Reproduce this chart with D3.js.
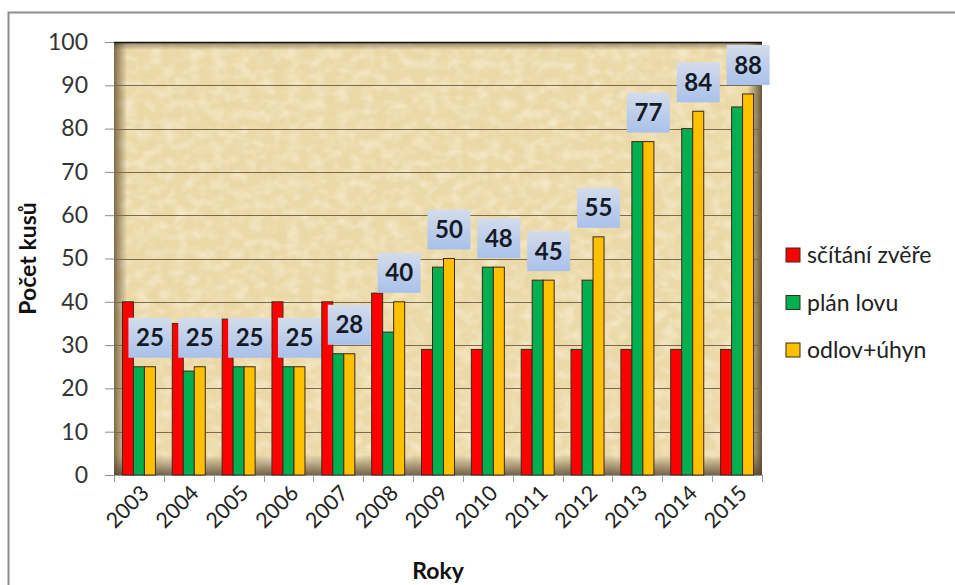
<!DOCTYPE html>
<html>
<head>
<meta charset="utf-8">
<script src="https://cdn.jsdelivr.net/npm/d3@7"></script>
<style>
  html, body { margin: 0; padding: 0; background: #fff; }
  svg { display: block; font-family: Lato, "Open Sans", sans-serif; }
</style>
</head>
<body>
<svg id="chart" width="955" height="585"></svg>
<script>
// Years on the category axis
const years = ["2003","2004","2005","2006","2007","2008","2009","2010","2011","2012","2013","2014","2015"];
// Series
const seriesNames = ["sčítání zvěře", "plán lovu", "odlov+úhyn"];
const scitani = [40, 35, 36, 40, 40, 42, 29, 29, 29, 29, 29, 29, 29];
const planLovu = [25, 24, 25, 25, 28, 33, 48, 48, 45, 45, 77, 80, 85];
const odlov   = [25, 25, 25, 25, 28, 40, 50, 48, 45, 55, 77, 84, 88];
const yTicks = [0, 10, 20, 30, 40, 50, 60, 70, 80, 90, 100];

const seriesValues = [scitani, planLovu, odlov];
const colors = ["#ff0000", "#00b050", "#ffc000"];

const svg = d3.select("#chart");
const plot = { left: 114, right: 762, top: 42, bottom: 475 };

// Outer frame
svg.append("rect")
  .attr("x", 8.5).attr("y", 12.5).attr("width", 960).attr("height", 600)
  .attr("fill", "#fff").attr("stroke", "#8c8c8c").attr("stroke-width", 2);

const x = d3.scaleBand().domain(years).range([plot.left, plot.right]).paddingInner(0).paddingOuter(0);
const x1 = d3.scaleBand().domain(d3.range(3)).range([0, x.bandwidth()]).paddingInner(0).paddingOuter(0.766);
const y = d3.scaleLinear().domain([0, 100]).range([plot.bottom, plot.top]);

const defs = svg.append("defs");

// Papyrus-like texture: fine horizontal and vertical fibres
function fibreFilter(id, freq, seed, rgb, aScale, aOff) {
  const f = defs.append("filter").attr("id", id)
    .attr("x", 0).attr("y", 0).attr("width", "100%").attr("height", "100%");
  f.append("feTurbulence").attr("type", "fractalNoise")
    .attr("baseFrequency", freq).attr("numOctaves", 2).attr("seed", seed).attr("result", "n");
  f.append("feColorMatrix").attr("in", "n").attr("type", "matrix")
    .attr("values", `0 0 0 0 ${rgb[0]}  0 0 0 0 ${rgb[1]}  0 0 0 0 ${rgb[2]}  0 0 0 ${aScale} ${aOff}`);
}
fibreFilter("fibH", "0.02 0.3", 4, [0.8, 0.67, 0.4], 0.9, -0.36);
fibreFilter("fibV", "0.3 0.02", 9, [0.8, 0.67, 0.4], 0.9, -0.36);
fibreFilter("fibL", "0.08 0.1", 2, [1.0, 0.96, 0.84], 1.0, -0.4);

function edgeGrad(id, x1v, y1v, x2v, y2v, color, op) {
  const g = defs.append("linearGradient").attr("id", id)
    .attr("x1", x1v).attr("y1", y1v).attr("x2", x2v).attr("y2", y2v);
  g.append("stop").attr("offset", "0%").attr("stop-color", color).attr("stop-opacity", op);
  g.append("stop").attr("offset", "100%").attr("stop-color", color).attr("stop-opacity", 0);
}
edgeGrad("edgeL", 0, 0, 1, 0, "#5a4526", 0.75);
edgeGrad("edgeR", 1, 0, 0, 0, "#4d3b22", 0.85);
edgeGrad("edgeB", 0, 1, 0, 0, "#55452f", 0.8);
edgeGrad("edgeT", 0, 0, 0, 1, "#3f2f1a", 0.55);

const lbl = defs.append("linearGradient").attr("id", "lblFill")
  .attr("x1", 0).attr("y1", 0).attr("x2", 0).attr("y2", 1);
lbl.append("stop").attr("offset", "0%").attr("stop-color", "#d3dcec");
lbl.append("stop").attr("offset", "100%").attr("stop-color", "#a9c1ea");

const pw = plot.right - plot.left, ph = plot.bottom - plot.top;
const bg = svg.append("g");
bg.append("rect").attr("x", plot.left).attr("y", plot.top).attr("width", pw).attr("height", ph).attr("fill", "#ecd9a8");
["fibH", "fibV", "fibL"].forEach(id => {
  bg.append("rect").attr("x", plot.left).attr("y", plot.top).attr("width", pw).attr("height", ph)
    .attr("filter", `url(#${id})`);
});
bg.append("rect").attr("x", plot.left).attr("y", plot.top).attr("width", 13).attr("height", ph).attr("fill", "url(#edgeL)");
bg.append("rect").attr("x", plot.right - 15).attr("y", plot.top).attr("width", 15).attr("height", ph).attr("fill", "url(#edgeR)");
bg.append("rect").attr("x", plot.left).attr("y", plot.bottom - 20).attr("width", pw).attr("height", 20).attr("fill", "url(#edgeB)");
bg.append("rect").attr("x", plot.left).attr("y", plot.top).attr("width", pw).attr("height", 8).attr("fill", "url(#edgeT)");

// Gridlines
svg.append("g").selectAll("line").data(yTicks.filter(t => t > 0 && t < 100)).join("line")
  .attr("x1", plot.left).attr("x2", plot.right)
  .attr("y1", d => Math.round(y(d)) + 0.5).attr("y2", d => Math.round(y(d)) + 0.5)
  .attr("stroke", "#7d6a4c").attr("stroke-width", 1.2);
svg.append("line").attr("x1", plot.left).attr("x2", plot.right)
  .attr("y1", plot.top + 0.5).attr("y2", plot.top + 0.5).attr("stroke", "#111").attr("stroke-width", 1.5);

// Y axis
const yAxis = svg.append("g").attr("transform", `translate(${plot.left},0)`)
  .call(d3.axisLeft(y).tickValues(yTicks).tickSize(9).tickPadding(17).tickSizeOuter(0));
yAxis.select(".domain").remove();
yAxis.selectAll(".tick line").attr("stroke", "#8c8c8c");
yAxis.selectAll(".tick text").attr("font-size", 23).attr("fill", "#333").attr("font-family", "Lato, sans-serif");

// X axis
const xAxis = svg.append("g").attr("transform", `translate(0,${plot.bottom})`)
  .call(d3.axisBottom(x).tickSize(0).tickFormat(""));
xAxis.select(".domain").attr("stroke", "#9a9a9a").attr("stroke-width", 1.2);
svg.append("g").selectAll("line").data(years.concat(["end"])).join("line")
  .attr("x1", (d, i) => Math.round(plot.left + i * x.step()) + 0.5)
  .attr("x2", (d, i) => Math.round(plot.left + i * x.step()) + 0.5)
  .attr("y1", plot.bottom).attr("y2", plot.bottom + 7)
  .attr("stroke", "#9a9a9a");
svg.append("g").selectAll("text").data(years).join("text")
  .attr("transform", d => `translate(${x(d) + x.bandwidth() / 2 + 6},${plot.bottom + 14}) rotate(-45)`)
  .attr("text-anchor", "end").attr("dy", "0.35em")
  .attr("font-size", 21.5).attr("fill", "#222")
  .text(d => d);

// Bars
const groups = svg.append("g").selectAll("g").data(years).join("g")
  .attr("transform", d => `translate(${x(d)},0)`);
groups.selectAll("rect").data((d, i) => seriesValues.map((s, k) => ({ k, v: s[i] }))).join("rect")
  .attr("x", d => x1(d.k)).attr("width", x1.bandwidth())
  .attr("y", d => y(d.v)).attr("height", d => y(0) - y(d.v))
  .attr("fill", d => colors[d.k]).attr("stroke", "#3b2a1a").attr("stroke-width", 1);

// Value labels for odlov+úhyn
const lw = 43, lh = 40;
const labels = svg.append("g").selectAll("g").data(years).join("g")
  .attr("transform", (d, i) => `translate(${x(d) + x1(2) + x1.bandwidth() / 2},${y(odlov[i]) - 9 - lh / 2})`);
labels.append("rect").attr("x", -lw / 2).attr("y", -lh / 2).attr("width", lw).attr("height", lh)
  .attr("fill", "url(#lblFill)");
labels.append("text").attr("text-anchor", "middle").attr("dy", "0.36em")
  .attr("font-size", 24).attr("font-weight", "bold").attr("fill", "#141a26")
  .text((d, i) => odlov[i]);

// Axis titles
svg.append("text").attr("transform", `translate(36,${(plot.top + plot.bottom) / 2}) rotate(-90)`)
  .attr("text-anchor", "middle").attr("font-size", 23).attr("font-weight", "bold").attr("fill", "#111")
  .text("Počet kusů");
svg.append("text").attr("x", (plot.left + plot.right) / 2).attr("y", 579)
  .attr("text-anchor", "middle").attr("font-size", 23).attr("font-weight", "bold").attr("fill", "#111")
  .text("Roky");

// Legend
const legend = svg.append("g").selectAll("g").data(seriesNames).join("g")
  .attr("transform", (d, i) => `translate(786,${255 + i * 47.5})`);
legend.append("rect").attr("x", 0).attr("y", -7).attr("width", 14).attr("height", 14)
  .attr("fill", (d, i) => colors[i]).attr("stroke", "#3b2a1a").attr("stroke-width", 1);
legend.append("text").attr("x", 21).attr("dy", "0.35em")
  .attr("font-size", 23).attr("fill", "#222").text(d => d);
</script>
</body>
</html>
